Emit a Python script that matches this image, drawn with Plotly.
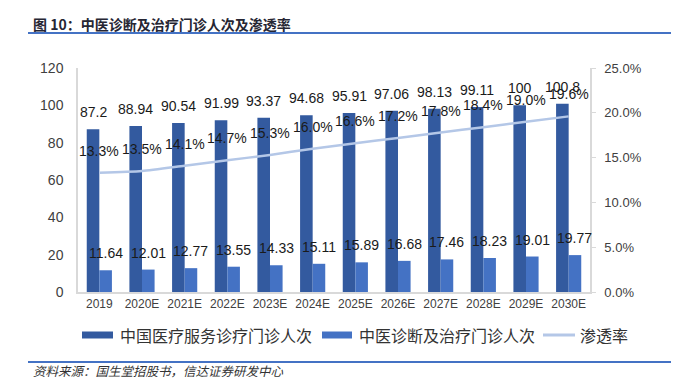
import plotly.graph_objects as go

categories = ["2019", "2020E", "2021E", "2022E", "2023E", "2024E", "2025E",
              "2026E", "2027E", "2028E", "2029E", "2030E"]
medical_visits = [87.2, 88.94, 90.54, 91.99, 93.37, 94.68, 95.91, 97.06, 98.13, 99.11, 100, 100.8]
tcm_visits = [11.64, 12.01, 12.77, 13.55, 14.33, 15.11, 15.89, 16.68, 17.46, 18.23, 19.01, 19.77]
penetration = [0.133, 0.135, 0.141, 0.147, 0.153, 0.160, 0.166, 0.172, 0.178, 0.184, 0.190, 0.196]

series_names = ["中国医疗服务诊疗门诊人次", "中医诊断及治疗门诊人次", "渗透率"]
title_text = "图 10：中医诊断及治疗门诊人次及渗透率"
source_text = "资料来源：国生堂招股书，信达证券研发中心"

C_DARK = "#335A9F"
C_LIGHT = "#4472C4"
C_LINE = "#B4C7E7"
C_AXIS = "#D9D9D9"
NUM_FONT = "Liberation Sans, Arial, sans-serif"
CJK_FONT = "Noto Sans CJK SC, sans-serif"

# page offset (default body margin) compensation
OFF = 8
PAGE_W, PAGE_H = 679, 379
W, H = PAGE_W - OFF, PAGE_H - OFF
# plot area in page pixels
L, R, T, B = 78, 590, 68, 292

xpos = list(range(len(categories)))


def px(x):
    return (x - L) / (R - L)


def py(y):
    return (B - y) / (B - T)


fig = go.Figure()
fig.add_trace(go.Bar(x=xpos, y=medical_visits, name=series_names[0],
                     marker=dict(color=C_DARK, line=dict(width=0)), yaxis="y"))
fig.add_trace(go.Bar(x=xpos, y=tcm_visits, name=series_names[1],
                     marker=dict(color=C_LIGHT, line=dict(width=0)), yaxis="y"))
fig.add_trace(go.Scatter(x=xpos, y=penetration, name=series_names[2], mode="lines",
                         line=dict(color=C_LINE, width=2.5, shape="spline", smoothing=0.6),
                         yaxis="y2"))

annotations = []
lab_font = dict(family=NUM_FONT, size=14, color="#1a1a1a")
for i, v in zip(xpos, medical_visits):
    annotations.append(dict(x=i, y=v, xref="x", yref="y", text=f"{v:g}", showarrow=False,
                            xshift=-6.3, yshift=17, yanchor="middle", font=lab_font))
for i, v in zip(xpos, tcm_visits):
    annotations.append(dict(x=i, y=v, xref="x", yref="y", text=f"{v:.2f}", showarrow=False,
                            xshift=6.3, yshift=17, yanchor="middle", font=lab_font))
for i, v in zip(xpos, penetration):
    annotations.append(dict(x=i, y=v, xref="x", yref="y2", text=f"{v*100:.1f}%", showarrow=False,
                            yshift=22, yanchor="middle", font=lab_font))

# title and source
annotations.append(dict(x=px(31), y=py(24), xref="paper", yref="paper", xanchor="left",
                        yanchor="middle", showarrow=False, text="<b>" + title_text + "</b>",
                        font=dict(family=CJK_FONT, size=14, color="#262633")))
annotations.append(dict(x=px(32), y=py(370.5), xref="paper", yref="paper", xanchor="left",
                        yanchor="middle", showarrow=False, text="<i>" + source_text + "</i>",
                        borderpad=0,
                        font=dict(family=CJK_FONT, size=12.5, color="#333333")))

# manual legend
leg_font = dict(family=CJK_FONT, size=16, color="#333333")
leg_y = 335
for txt_x, name in [(118, series_names[0]), (357, series_names[1]), (578, series_names[2])]:
    annotations.append(dict(x=px(txt_x), y=py(leg_y), xref="paper", yref="paper",
                            xanchor="left", yanchor="middle", showarrow=False, text=name,
                            font=leg_font))

shapes = []
shapes.append(dict(type="rect", xref="paper", yref="paper", x0=px(82), x1=px(113),
                   y0=py(338.5), y1=py(331.5), fillcolor=C_DARK, line=dict(width=0)))
shapes.append(dict(type="rect", xref="paper", yref="paper", x0=px(322), x1=px(352),
                   y0=py(338.5), y1=py(331.5), fillcolor=C_LIGHT, line=dict(width=0)))
shapes.append(dict(type="line", xref="paper", yref="paper", x0=px(543), x1=px(575),
                   y0=py(335), y1=py(335), line=dict(color=C_LINE, width=3)))
for yy in (33, 362):
    shapes.append(dict(type="line", xref="paper", yref="paper", x0=px(28), x1=px(679),
                       y0=py(yy), y1=py(yy), line=dict(color=C_LIGHT, width=2)))

fig.update_layout(
    width=W, height=H,
    margin=dict(l=L - OFF, r=PAGE_W - R, t=T - OFF, b=PAGE_H - B, autoexpand=False),
    paper_bgcolor="white", plot_bgcolor="white",
    barmode="group", bargap=0.41, bargroupgap=0,
    showlegend=False,
    annotations=annotations, shapes=shapes,
    xaxis=dict(range=[-0.5, len(categories) - 0.5], tickvals=xpos, ticktext=categories,
               showline=True, linecolor=C_AXIS, linewidth=1.5, automargin=False,
               ticks="", showgrid=False, zeroline=False,
               tickfont=dict(family=NUM_FONT, size=12, color="#404040")),
    yaxis=dict(range=[0, 120], dtick=20, showline=True, linecolor=C_AXIS, linewidth=1.5,
               showgrid=False, zeroline=False, ticks="", ticklabelstandoff=10, automargin=False,
               tickfont=dict(family=NUM_FONT, size=14, color="#404040")),
    yaxis2=dict(range=[0, 0.25], dtick=0.05, tickformat=".1%", overlaying="y", side="right",
                showline=True, linecolor=C_AXIS, linewidth=1.5, showgrid=False, zeroline=False,
                ticks="outside", ticklen=4, tickcolor=C_AXIS, ticklabelstandoff=6,
                automargin=False,
                tickfont=dict(family=NUM_FONT, size=13, color="#404040")),
)

fig.write_html("out.html")
